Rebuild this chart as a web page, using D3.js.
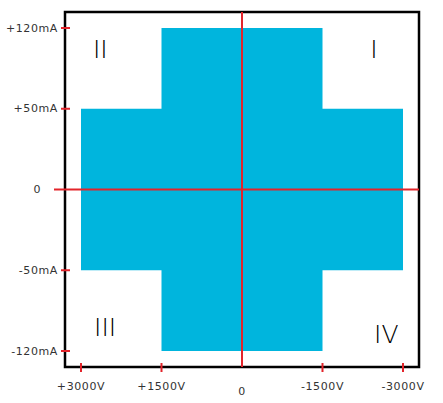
<!DOCTYPE html>
<html><head><meta charset="utf-8">
<script src="https://cdn.jsdelivr.net/npm/d3@7"></script>
<style>
html,body{margin:0;padding:0;background:#fff;}
text{font-family:"DejaVu Sans",sans-serif;}
</style>
</head><body>
<svg id="chart" width="443" height="403"></svg>
<script>
// Data
const voltageTicks = [3000, 1500, 0, -1500, -3000];
const voltageLabels = ["+3000V", "+1500V", "0", "-1500V", "-3000V"];
const currentTicks = [120, 50, 0, -50, -120];
const currentLabels = ["+120mA", "+50mA", "0", "-50mA", "-120mA"];
// Operating region
const regionVoltLow = [3000, -3000];   // wide band
const regionCurrLow = [50, -50];
const regionVoltHigh = [1500, -1500];  // tall band
const regionCurrHigh = [120, -120];
const quadrantNames = ["I", "II", "III", "IV"];
const quadrantV = [-2460, 2640, 2550, -2690];
const quadrantI = [101, 101, -100, -106];

const svg = d3.select("#chart");
const L = 65, R = 419, T = 12, B = 367;
const inset = 16;

const x = d3.scaleLinear().domain([3000, -3000]).range([L + inset, R - inset]);
const y = d3.scaleLinear().domain(currentTicks).range(
  d3.range(5).map(i => (T + inset) + i * ((B - inset) - (T + inset)) / 4));

const blue = "#00b5dd", red = "#e3242b";

const pts = [
  [regionVoltHigh[0], regionCurrHigh[0]], [regionVoltHigh[1], regionCurrHigh[0]],
  [regionVoltHigh[1], regionCurrLow[0]], [regionVoltLow[1], regionCurrLow[0]],
  [regionVoltLow[1], regionCurrLow[1]], [regionVoltHigh[1], regionCurrLow[1]],
  [regionVoltHigh[1], regionCurrHigh[1]], [regionVoltHigh[0], regionCurrHigh[1]],
  [regionVoltHigh[0], regionCurrLow[1]], [regionVoltLow[0], regionCurrLow[1]],
  [regionVoltLow[0], regionCurrLow[0]], [regionVoltHigh[0], regionCurrLow[0]]
];
svg.append("path")
  .attr("d", d3.line().x(d => x(d[0])).y(d => y(d[1]))(pts) + "Z")
  .attr("fill", blue);

svg.append("rect").attr("x", L).attr("y", T).attr("width", R - L).attr("height", B - T)
  .attr("fill", "none").attr("stroke", "#000").attr("stroke-width", 2.5);

svg.append("line").attr("x1", x(0)).attr("x2", x(0)).attr("y1", T).attr("y2", B)
  .attr("stroke", red).attr("stroke-width", 2);
svg.append("line").attr("x1", 54).attr("x2", R).attr("y1", y(0)).attr("y2", y(0))
  .attr("stroke", red).attr("stroke-width", 2);

currentTicks.forEach((v, i) => {
  if (v !== 0) {
    svg.append("line").attr("x1", 61).attr("x2", 70).attr("y1", y(v)).attr("y2", y(v))
      .attr("stroke", red).attr("stroke-width", 2);
  }
  svg.append("text").attr("x", v === 0 ? 41 : 58).attr("y", y(v))
    .attr("text-anchor", "end").attr("dominant-baseline", "central")
    .attr("font-size", 11).attr("letter-spacing", 0.6).attr("fill", "#333")
    .text(currentLabels[i]);
});

voltageTicks.forEach((v, i) => {
  if (v !== 0) {
    svg.append("line").attr("x1", x(v)).attr("x2", x(v)).attr("y1", 363).attr("y2", 372)
      .attr("stroke", red).attr("stroke-width", 2);
  }
  svg.append("text").attr("x", x(v)).attr("y", v === 0 ? 391 : 386)
    .attr("text-anchor", "middle").attr("dominant-baseline", "central")
    .attr("font-size", 11).attr("letter-spacing", 0.6).attr("fill", "#333")
    .text(voltageLabels[i]);
});

quadrantNames.forEach((q, i) => {
  svg.append("text").attr("x", x(quadrantV[i]))
    .attr("y", y(quadrantI[i]))
    .attr("text-anchor", "middle").attr("dominant-baseline", "central")
    .attr("font-size", 25).attr("font-weight", 300).attr("fill", "#000")
    .text(q);
});
</script>
</body></html>
